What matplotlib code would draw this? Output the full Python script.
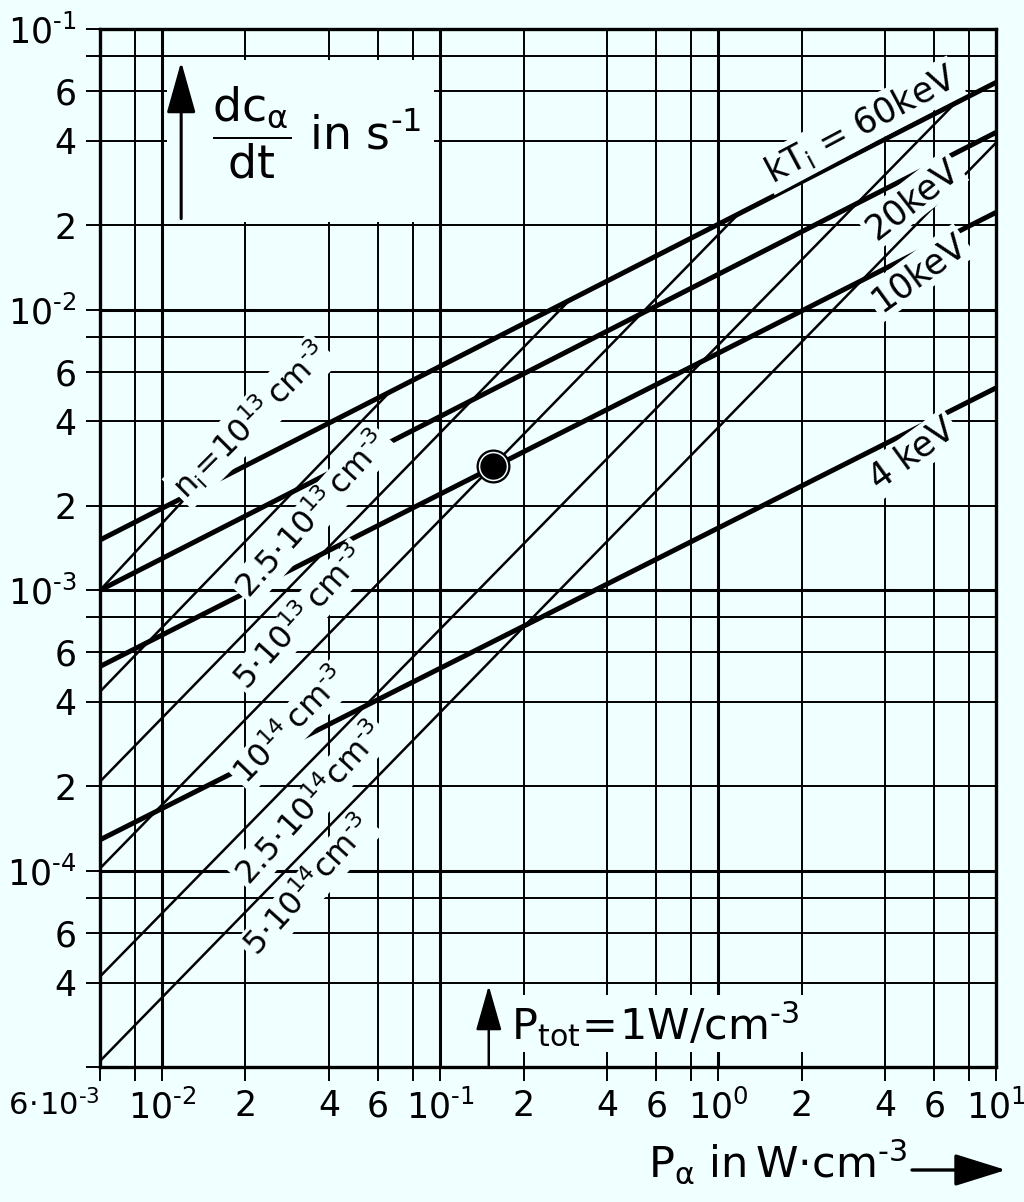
import numpy as np
import matplotlib
matplotlib.use('Agg')
import matplotlib.pyplot as plt
from matplotlib.patches import Rectangle, FancyArrowPatch

plt.rcParams['font.family'] = ['DejaVu Sans']
plt.rcParams['mathtext.fontset'] = 'dejavusans'
plt.rcParams['mathtext.default'] = 'regular'

BG = '#f0ffff'
INK = '#000000'
M = r'\text{-}'   # short superscript minus

# ---------------- data ----------------
x_ticks = [6e-3, 8e-3, 1e-2, 2e-2, 4e-2, 6e-2, 8e-2, 1e-1, 2e-1, 4e-1, 6e-1, 8e-1,
           1, 2, 4, 6, 8, 10]
x_tick_labels = [r'$6\!\cdot\!10^{' + M + '3}$', '', r'$10^{' + M + '2}$', '2', '4', '6', '',
                 r'$10^{' + M + '1}$', '2', '4', '6', '', r'$10^{0}$', '2', '4', '6', '',
                 r'$10^{1}$']
y_ticks = [2e-5, 4e-5, 6e-5, 8e-5, 1e-4, 2e-4, 4e-4, 6e-4, 8e-4, 1e-3, 2e-3, 4e-3,
           6e-3, 8e-3, 1e-2, 2e-2, 4e-2, 6e-2, 8e-2, 1e-1]
y_tick_labels = ['', '4', '6', '', r'$10^{' + M + '4}$', '2', '4', '6', '',
                 r'$10^{' + M + '3}$', '2', '4', '6', '', r'$10^{' + M + '2}$', '2', '4', '6',
                 '', r'$10^{' + M + '1}$']

# constant ion temperature (thick lines)
temp_labels = [r'$\mathrm{kT_i}$ = 60keV', '20keV', '10keV', '4 keV']
temp_P = [6e-3, 10]
temp_rate_start = [1.51e-3, 1.0e-3, 5.35e-4, 1.29e-4]
temp_rate_end = [6.45e-2, 4.28e-2, 2.22e-2, 5.26e-3]
temp_label_P = [3.26, 5.0, 5.27, 5.0]
temp_label_rate = [4.54e-2, 2.47e-2, 1.355e-2, 3.06e-3]
temp_label_rot = [28, 38, 36, 36]

# constant ion density (thin lines)
dens_labels = [r'$n_i\!=\!10^{13}\,cm^{' + M + '3}$',
               r'$2.5\!\cdot\!10^{13}\,cm^{' + M + '3}$',
               r'$5\!\cdot\!10^{13}\,cm^{' + M + '3}$',
               r'$10^{14}\,cm^{' + M + '3}$',
               r'$2.5\!\cdot\!10^{14}cm^{' + M + '3}$',
               r'$5\!\cdot\!10^{14}cm^{' + M + '3}$']
dens_P_start = [6e-3, 6e-3, 6e-3, 6e-3, 6e-3, 6e-3]
dens_rate_start = [1.0e-3, 4.35e-4, 2.08e-4, 1.02e-4, 4.2e-5, 2.1e-5]
dens_P_end = [0.0125, 0.066, 0.29, 1.19, 7.2, 10.0]
dens_rate_end = [2.19e-3, 5.08e-3, 1.07e-2, 2.2e-2, 5.5e-2, 3.93e-2]
dens_label_P = [0.0209, 0.035, 0.0317, 0.0292, 0.0344, 0.0339]
dens_label_rate = [4.02e-3, 1.85e-3, 7.94e-4, 3.27e-4, 1.73e-4, 8.77e-5]
dens_label_rot = [45, 48, 48, 46, 48, 48]

# operating point, P_tot = 1 W/cm^3
point_P = [0.155]
point_rate = [2.78e-3]
ptot_P = 0.15

# ---------------- figure ----------------
fig = plt.figure(figsize=(10.24, 12.02), dpi=100, facecolor=BG)
ax = fig.add_axes([100/1024, 1 - 1067/1202, 896/1024, 1038/1202])
ax.set_facecolor(BG)
ax.set_xscale('log')
ax.set_yscale('log')
ax.set_xlim(6e-3, 10)
ax.set_ylim(2e-5, 1e-1)

def is_decade(v):
    return abs(np.log10(v) - round(np.log10(v))) < 1e-6

for v in x_ticks[1:-1]:
    ax.axvline(v, color=INK, lw=2.2 if is_decade(v) else 1.4, zorder=1)
for v in y_ticks[1:-1]:
    ax.axhline(v, color=INK, lw=2.2 if is_decade(v) else 1.4, zorder=1)

ax.set_xticks(x_ticks)
ax.set_xticklabels(x_tick_labels)
ax.set_yticks(y_ticks)
ax.set_yticklabels(y_tick_labels)
ax.minorticks_off()
ax.tick_params(axis='both', which='major', direction='out', length=10, width=1.4,
               color=INK, labelsize=25)
ax.tick_params(axis='x', pad=6)
ax.tick_params(axis='y', pad=7)
first = ax.get_xticklabels()[0]
first.set_horizontalalignment('right')
first.set_fontsize(22)
for s in ax.spines.values():
    s.set_linewidth(2.4)
    s.set_color(INK)
    s.set_zorder(6)

# eraser for y-axis title box
ax.add_patch(Rectangle((1.045e-2, 2.06e-2), 0.0955 - 1.045e-2, 0.0775 - 2.06e-2,
                       facecolor=BG, edgecolor='none', zorder=1.5))

# density lines
for i in range(len(dens_labels)):
    ax.plot([dens_P_start[i], dens_P_end[i]], [dens_rate_start[i], dens_rate_end[i]],
            color=INK, lw=1.8, solid_capstyle='butt', zorder=3)
# temperature lines
for i in range(len(temp_labels)):
    ax.plot(temp_P, [temp_rate_start[i], temp_rate_end[i]], color=INK, lw=3.6,
            solid_capstyle='butt', zorder=4)

box = dict(boxstyle='square,pad=0.08', facecolor=BG, edgecolor='none')
for i in range(len(dens_labels)):
    ax.text(dens_label_P[i], dens_label_rate[i], dens_labels[i], fontsize=23,
            rotation=dens_label_rot[i], rotation_mode='anchor', ha='center', va='center',
            bbox=box, zorder=5)
for i in range(len(temp_labels)):
    ax.text(temp_label_P[i], temp_label_rate[i], temp_labels[i], fontsize=25,
            rotation=temp_label_rot[i], rotation_mode='anchor', ha='center', va='center',
            bbox=box, zorder=5)

# operating point
ax.scatter(point_P, point_rate, s=600, color=INK, zorder=7, linewidths=0)
ax.scatter(point_P, point_rate, s=450, color=BG, zorder=7, linewidths=0)
ax.scatter(point_P, point_rate, s=360, color=INK, zorder=7, linewidths=0)

# y-axis title with arrow
ax.annotate('', xy=(0.01175, 0.0765), xytext=(0.01175, 0.0211),
            arrowprops=dict(arrowstyle='-|>,head_length=1.6,head_width=0.45',
                            mutation_scale=20, lw=2.2, color=INK,
                            shrinkA=0, shrinkB=0), zorder=6)
ax.text(0.0152, 0.0426, r'$\dfrac{dc_{\alpha}}{dt}$ in s$^{' + M + '1}$', fontsize=33,
        ha='left', va='center', zorder=6)

# P_tot marker
ax.annotate('', xy=(ptot_P, 3.9e-5), xytext=(ptot_P, 2e-5),
            arrowprops=dict(arrowstyle='-|>,head_length=1.4,head_width=0.4',
                            mutation_scale=20, lw=1.8, color=INK,
                            shrinkA=0, shrinkB=0), zorder=6)
ax.text(0.18, 2.86e-5, r'$P_{tot}\!=\!1W/cm^{' + M + '3}$', fontsize=31, ha='left',
        va='center', bbox=dict(boxstyle='square,pad=0.1', facecolor=BG, edgecolor='none'),
        zorder=5)

# x-axis title with arrow
fig.text(648/1024, 1 - 1162/1202, r'$P_{\alpha}$ in$\,$W$\cdot$cm$^{' + M + '3}$',
         fontsize=31, ha='left', va='center')
fig.patches.append(FancyArrowPatch(
    (912/1024, 1 - 1170/1202), (1006/1024, 1 - 1170/1202), transform=fig.transFigure,
    arrowstyle='-|>,head_length=1.6,head_width=0.5', mutation_scale=20, lw=2.4,
    color=INK, shrinkA=0, shrinkB=0))

fig.savefig('out.png', dpi=100, facecolor=BG)
